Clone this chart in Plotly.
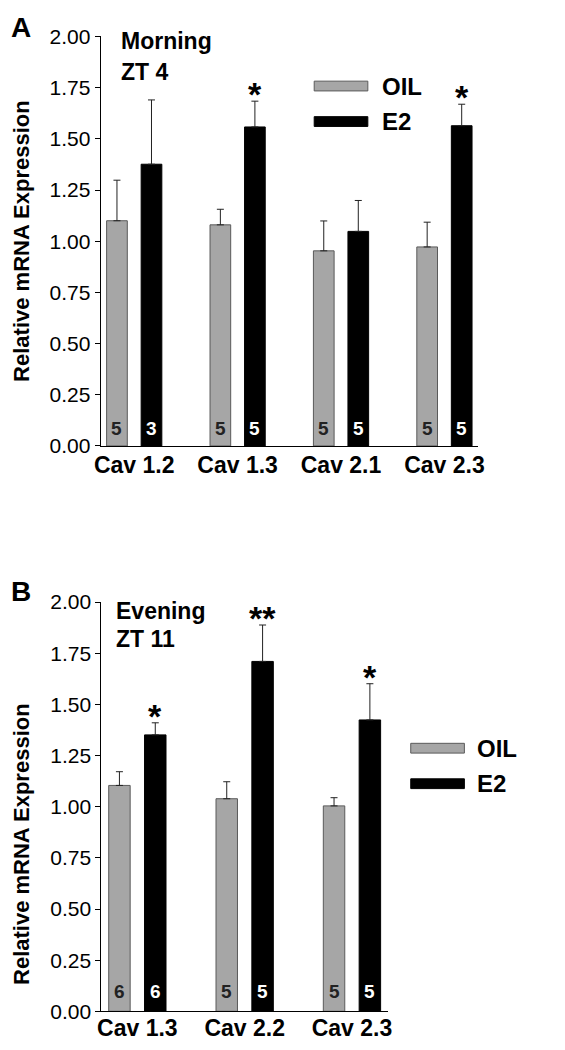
import plotly.graph_objects as go

W, H = 565, 1050
FONT = "Arial, Liberation Sans, sans-serif"

# ---- Panel A data (Morning, ZT 4) ----
cats_A = ["Cav 1.2", "Cav 1.3", "Cav 2.1", "Cav 2.3"]
oil_A = [1.10, 1.08, 0.953, 0.972]
oil_A_err = [1.298, 1.156, 1.099, 1.093]
e2_A = [1.376, 1.558, 1.048, 1.564]
e2_A_err = [1.69, 1.684, 1.199, 1.669]
n_oil_A = ["5", "5", "5", "5"]
n_e2_A = ["3", "5", "5", "5"]
sig_A = ["", "*", "", "*"]

# ---- Panel B data (Evening, ZT 11) ----
cats_B = ["Cav 1.3", "Cav 2.2", "Cav 2.3"]
oil_B = [1.104, 1.039, 1.004]
oil_B_err = [1.171, 1.122, 1.044]
e2_B = [1.351, 1.710, 1.424]
e2_B_err = [1.410, 1.888, 1.601]
n_oil_B = ["6", "5", "5"]
n_e2_B = ["6", "5", "5"]
sig_B = ["*", "**", "*"]

yticks = [0, 0.25, 0.5, 0.75, 1.0, 1.25, 1.5, 1.75, 2.0]

GREY = "#a6a6a6"
GREY_LINE = "#5a5a5a"
OFF = 0.167
BW = 0.2


def px_x(p):
    return p / W


def px_y(p):
    return 1 - p / H


fig = go.Figure()
annotations = []
shapes = []


def add_panel(cats, oil, oil_err, e2, e2_err, n_oil, n_e2, sig, xa, ya, nshift):
    idx = list(range(len(cats)))
    xref = "x" if xa == "x" else "x2"
    yref = "y" if ya == "y" else "y2"
    fig.add_trace(go.Bar(
        x=idx, y=oil, width=BW, offset=-OFF - BW / 2,
        marker=dict(color=GREY, line=dict(color=GREY_LINE, width=1)),
        error_y=dict(type="data", symmetric=False,
                     array=[t - v for t, v in zip(oil_err, oil)],
                     arrayminus=[0] * len(oil), color="#222", thickness=1, width=3.5),
        xaxis=xref, yaxis=yref, showlegend=False, name="OIL"))
    fig.add_trace(go.Bar(
        x=idx, y=e2, width=BW, offset=OFF - BW / 2,
        marker=dict(color="black", line=dict(color="black", width=1)),
        error_y=dict(type="data", symmetric=False,
                     array=[t - v for t, v in zip(e2_err, e2)],
                     arrayminus=[0] * len(e2), color="#222", thickness=1, width=3.5),
        xaxis=xref, yaxis=yref, showlegend=False, name="E2"))
    for i in idx:
        annotations.append(dict(x=i - OFF, y=0, xref=xref, yref=yref, text=n_oil[i],
                                showarrow=False, yanchor="middle", yshift=nshift,
                                font=dict(family=FONT, size=19, color="#222", weight="bold")))
        annotations.append(dict(x=i + OFF, y=0, xref=xref, yref=yref, text=n_e2[i],
                                showarrow=False, yanchor="middle", yshift=nshift,
                                font=dict(family=FONT, size=19, color="white", weight="bold")))
        if sig[i]:
            annotations.append(dict(x=i + OFF, y=e2_err[i], xref=xref, yref=yref, text=sig[i],
                                    showarrow=False, yanchor="bottom", yshift=-14,
                                    font=dict(family=FONT, size=34, color="black", weight="bold")))


add_panel(cats_A, oil_A, oil_A_err, e2_A, e2_A_err, n_oil_A, n_e2_A, sig_A, "x", "y", 17)
add_panel(cats_B, oil_B, oil_B_err, e2_B, e2_B_err, n_oil_B, n_e2_B, sig_B, "x2", "y2", 20)

axis_common = dict(showline=True, linecolor="black", linewidth=1, showgrid=False,
                   zeroline=False, mirror=False)
xfont = dict(family=FONT, size=23, color="black", weight="bold")
yfont = dict(family=FONT, size=21, color="black")

fig.update_layout(
    width=W, height=H, margin=dict(l=0, r=0, t=0, b=0),
    paper_bgcolor="white", plot_bgcolor="white", barmode="overlay",
    xaxis=dict(domain=[px_x(96), px_x(483)], range=[-0.325, 3.325],
               tickvals=list(range(len(cats_A))), ticktext=cats_A, ticks="", ticklen=0,
               ticklabelstandoff=-2, tickfont=xfont, anchor="y", **axis_common),
    yaxis=dict(domain=[px_y(443.7), px_y(25)], range=[0, 2], tickvals=yticks,
               tickformat=".2f", ticks="outside", ticklen=5, tickcolor="black",
               tickfont=yfont, anchor="x", **axis_common),
    xaxis2=dict(domain=[px_x(96.7), px_x(390.7)], range=[-0.336, 2.336],
                tickvals=list(range(len(cats_B))), ticktext=cats_B, ticks="", ticklen=0,
                ticklabelstandoff=-4, tickfont=xfont, anchor="y2", **axis_common),
    yaxis2=dict(domain=[px_y(1021.7), px_y(603.3)], range=[0, 2], tickvals=yticks,
                tickformat=".2f", ticks="outside", ticklen=5, tickcolor="black",
                tickfont=yfont, anchor="x2", **axis_common),
)

bold = lambda s: dict(family=FONT, size=s, color="black", weight="bold")

# panel letters, condition labels, y titles
texts = [
    ("A", 2, 16, 28, "left"), ("B", 2, 592, 28, "left"),
    ("Morning", 115, 30, 23, "left"), ("ZT 4", 115, 61, 23, "left"),
    ("Evening", 110, 612, 23, "left"), ("ZT 11", 110, 641, 23, "left"),
]
for t, x, y, s, xa in texts:
    annotations.append(dict(x=px_x(x), y=px_y(y), xref="paper", yref="paper", text=t,
                            showarrow=False, xanchor=xa, yanchor="middle", font=bold(s)))
for yc in (234.4, 851):
    annotations.append(dict(x=px_x(15), y=px_y(yc), xref="paper", yref="paper",
                            text="Relative mRNA Expression", textangle=-90,
                            showarrow=False, xanchor="center", yanchor="middle", font=bold(22)))

# custom legends (wide swatches)
for (x0, x1, yo, ye, tx) in [(315, 370, 75.7, 112, 382), (414, 469, 752.7, 789, 480)]:
    shapes.append(dict(type="rect", xref="paper", yref="paper", x0=px_x(x0), x1=px_x(x1),
                       y0=px_y(yo + 5), y1=px_y(yo - 5), fillcolor=GREY,
                       line=dict(color=GREY_LINE, width=1)))
    shapes.append(dict(type="rect", xref="paper", yref="paper", x0=px_x(x0), x1=px_x(x1),
                       y0=px_y(ye + 5), y1=px_y(ye - 5), fillcolor="black",
                       line=dict(color="black", width=1)))
    annotations.append(dict(x=px_x(tx), y=px_y(yo), xref="paper", yref="paper", text="OIL",
                            showarrow=False, xanchor="left", yanchor="middle", font=bold(24)))
    annotations.append(dict(x=px_x(tx), y=px_y(ye), xref="paper", yref="paper", text="E2",
                            showarrow=False, xanchor="left", yanchor="middle", font=bold(24)))

fig.update_layout(annotations=annotations, shapes=shapes)
fig.write_html("out.html", post_script="document.body.style.margin='0';",
               config={"displayModeBar": False})
